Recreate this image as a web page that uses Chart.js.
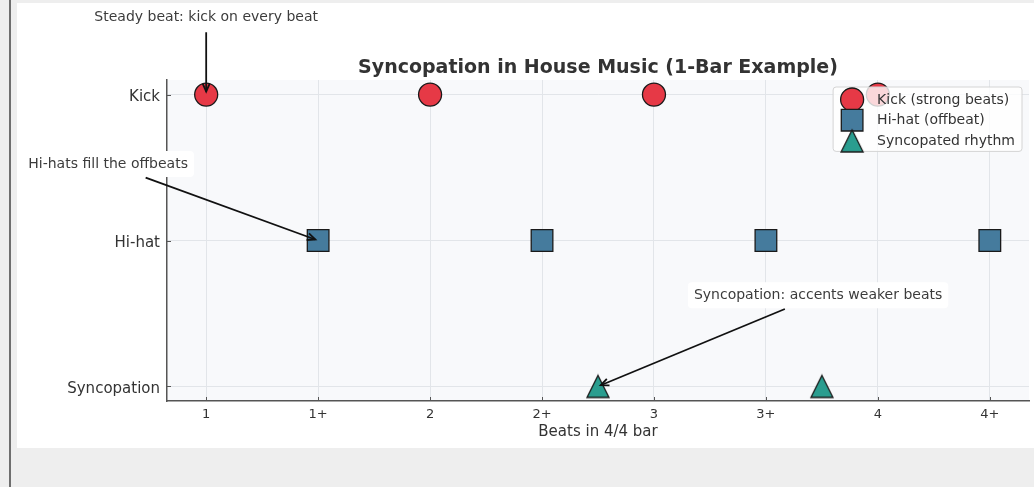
<!DOCTYPE html>
<html>
<head>
<meta charset="utf-8">
<title>Syncopation in House Music</title>
<script src="https://cdn.jsdelivr.net/npm/chart.js@4.4.0/dist/chart.umd.min.js"></script>
<style>
  html, body { margin: 0; padding: 0; }
  body { width: 1034px; height: 487px; background: #eeeeee; position: relative; overflow: hidden; }
  .borde { position: absolute; left: 9px; top: 0; width: 2px; height: 487px; background: #6e6e6e; }
  .panel { position: absolute; left: 17px; top: 3px; width: 1017px; height: 445px; background: #ffffff; }
  #grafico { position: absolute; left: 0; top: 0; }
</style>
</head>
<body>
<div class="borde"></div>
<div class="panel"></div>
<canvas id="grafico" width="1034" height="487"></canvas>
<script>
// eje x: tiempos del compas
const posicionesX = [1, 1.5, 2, 2.5, 3, 3.5, 4, 4.5];
const etiquetasX = ['1', '1+', '2', '2+', '3', '3+', '4', '4+'];
// eje y: instrumentos
const nivelesY = [0, 1, 2];
const etiquetasY = ['Syncopation', 'Hi-hat', 'Kick'];

// golpes de cada serie
const kickX = [1, 2, 3, 4];
const kickY = [2, 2, 2, 2];
const hihatX = [1.5, 2.5, 3.5, 4.5];
const hihatY = [1, 1, 1, 1];
const syncX = [2.75, 3.75];
const syncY = [0, 0];

const nombresSeries = ['Kick (strong beats)', 'Hi-hat (offbeat)', 'Syncopated rhythm'];

// anotaciones: texto, posicion del texto y punto al que apunta (en datos)
const notasTexto = ['Steady beat: kick on every beat', 'Hi-hats fill the offbeats', 'Syncopation: accents weaker beats'];
const notasX = [1.0, 0.562, 3.733];
const notasY = [2.53, 1.525, 0.625];
const destinoX = [1, 1.5, 2.75];
const destinoY = [2, 1, 0];

const FUENTE = '"DejaVu Sans", "Liberation Sans", sans-serif';
const puntos = (xs, ys) => xs.map((x, i) => ({ x: x, y: ys[i] }));

// triangulo centrado en su caja, como el marcador '^'
const triangulo = (() => {
    const c = document.createElement('canvas');
    c.width = 26; c.height = 26;
    const t = c.getContext('2d');
    t.beginPath();
    t.moveTo(13, 2);
    t.lineTo(24, 24);
    t.lineTo(2, 24);
    t.closePath();
    t.fillStyle = '#2a9d8f';
    t.fill();
    t.lineWidth = 1.3;
    t.strokeStyle = '#1a1a1a';
    t.stroke();
    return c;
})();

const flecha = (ctx, x0, y0, x1, y1) => {
    const ang = Math.atan2(y1 - y0, x1 - x0);
    const L = 8, W = 3.5;
    ctx.beginPath();
    ctx.moveTo(x0, y0);
    ctx.lineTo(x1, y1);
    ctx.stroke();
    ctx.beginPath();
    ctx.moveTo(x1 - L * Math.cos(ang) + W * Math.sin(ang), y1 - L * Math.sin(ang) - W * Math.cos(ang));
    ctx.lineTo(x1, y1);
    ctx.lineTo(x1 - L * Math.cos(ang) - W * Math.sin(ang), y1 - L * Math.sin(ang) + W * Math.cos(ang));
    ctx.stroke();
}

const decoracion = {
    id: 'decoracion',
    beforeDraw(chart) {
        const { ctx, chartArea: a } = chart;
        ctx.save();
        ctx.fillStyle = '#f8f9fb';
        ctx.fillRect(a.left, a.top, a.right - a.left, a.bottom - a.top);
        ctx.restore();
    },
    afterDraw(chart) {
        const { ctx, chartArea: a, scales } = chart;
        const sx = scales.x, sy = scales.y;
        ctx.save();

        // marcas de los ejes hacia adentro
        ctx.strokeStyle = '#555';
        ctx.lineWidth = 1;
        posicionesX.forEach(v => {
            const px = Math.round(sx.getPixelForValue(v)) + 0.5;
            ctx.beginPath(); ctx.moveTo(px, a.bottom); ctx.lineTo(px, a.bottom - 4); ctx.stroke();
        });
        nivelesY.forEach(v => {
            const py = Math.round(sy.getPixelForValue(v)) + 0.5;
            ctx.beginPath(); ctx.moveTo(a.left, py); ctx.lineTo(a.left + 4, py); ctx.stroke();
        });

        // anotaciones con flecha
        ctx.font = '14px ' + FUENTE;
        notasTexto.forEach((txt, i) => {
            const cx = sx.getPixelForValue(notasX[i]);
            const cy = sy.getPixelForValue(notasY[i]);
            const tx = sx.getPixelForValue(destinoX[i]);
            const ty = sy.getPixelForValue(destinoY[i]);
            const hw = ctx.measureText(txt).width / 2 + 6;
            const hh = 13;
            ctx.fillStyle = '#ffffff';
            ctx.beginPath();
            ctx.roundRect(cx - hw, cy - hh, hw * 2, hh * 2, 4);
            ctx.fill();
            ctx.fillStyle = '#3c3c3c';
            ctx.textAlign = 'center';
            ctx.textBaseline = 'middle';
            ctx.fillText(txt, cx, cy);
            const dx = tx - cx, dy = ty - cy;
            const largo = Math.hypot(dx, dy);
            const t = Math.min(dx ? hw / Math.abs(dx) : Infinity, dy ? hh / Math.abs(dy) : Infinity);
            const x0 = cx + dx * t + dx / largo * 2, y0 = cy + dy * t + dy / largo * 2;
            const x1 = tx - dx / largo * 3, y1 = ty - dy / largo * 3;
            ctx.strokeStyle = '#111';
            ctx.lineWidth = 1.8;
            flecha(ctx, x0, y0, x1, y1);
        });

        // leyenda dentro del area
        ctx.font = '14px ' + FUENTE;
        const anchoTexto = Math.max(...nombresSeries.map(n => ctx.measureText(n).width));
        const anchoCaja = 44 + anchoTexto + 7;
        const altoFila = 20.7;
        const caja = { x: a.right - 7 - anchoCaja, y: a.top + 7 };
        ctx.fillStyle = 'rgba(255,255,255,0.8)';
        ctx.strokeStyle = '#d4d4d4';
        ctx.lineWidth = 1;
        ctx.beginPath();
        ctx.roundRect(caja.x, caja.y, anchoCaja, 12.5 + altoFila * 2 + 10.5, 3);
        ctx.fill();
        ctx.stroke();
        chart.data.datasets.forEach((ds, i) => {
            const my = caja.y + 12.5 + altoFila * i;
            ctx.fillStyle = ds.backgroundColor;
            ctx.strokeStyle = ds.borderColor;
            ctx.lineWidth = ds.borderWidth;
            Chart.helpers.drawPoint(ctx, { pointStyle: ds.pointStyle, radius: ds.pointRadius, rotation: 0, borderWidth: ds.borderWidth }, caja.x + 19, my);
            ctx.fillStyle = '#333';
            ctx.textAlign = 'left';
            ctx.textBaseline = 'middle';
            ctx.fillText(ds.label, caja.x + 44, my + 0.5);
        });
        ctx.restore();
    }
};

const serie = (i, xs, ys, color, estilo, radio) => ({
    label: nombresSeries[i],
    data: puntos(xs, ys),
    backgroundColor: color,
    borderColor: '#1a1a1a',
    borderWidth: 1.3,
    pointStyle: estilo,
    pointRadius: radio,
    pointHoverRadius: radio
});

const ctx = document.getElementById('grafico').getContext('2d');
const myChart = new Chart(ctx, {
    type: 'scatter',
    data: {
        datasets: [
            serie(0, kickX, kickY, '#e63946', 'circle', 11.5),
            serie(1, hihatX, hihatY, '#457b9d', 'rect', 15.3),
            serie(2, syncX, syncY, '#2a9d8f', triangulo, 13)
        ]
    },
    options: {
        responsive: false,
        animation: false,
        layout: { autoPadding: false, padding: { top: 0, left: 0, right: 5, bottom: 39 } },
        plugins: {
            legend: { display: false },
            tooltip: { enabled: false },
            title: {
                display: true,
                fullSize: false,
                text: 'Syncopation in House Music (1-Bar Example)',
                color: '#333',
                font: { family: FUENTE, size: 19, weight: 'bold' },
                padding: { top: 56.6, bottom: 0.6 }
            }
        },
        scales: {
            x: {
                type: 'linear',
                min: 0.825,
                max: 4.675,
                afterBuildTicks: s => { s.ticks = posicionesX.map(v => ({ value: v })); },
                afterFit: s => { s.height = 47; },
                ticks: {
                    padding: 6,
                    color: '#333',
                    font: { family: FUENTE, size: 13 },
                    callback: v => etiquetasX[posicionesX.indexOf(v)]
                },
                grid: { color: '#e2e5e9', lineWidth: 1, drawTicks: false },
                border: { display: true, color: '#555', width: 1.5 },
                title: {
                    display: true,
                    text: 'Beats in 4/4 bar',
                    color: '#333',
                    font: { family: FUENTE, size: 15 },
                    padding: { top: 0, bottom: 7 }
                }
            },
            y: {
                type: 'linear',
                min: -0.1,
                max: 2.1,
                afterBuildTicks: s => { s.ticks = nivelesY.map(v => ({ value: v })); },
                afterFit: s => { s.width = 167; },
                ticks: {
                    padding: 7,
                    labelOffset: 3,
                    color: '#333',
                    font: { family: FUENTE, size: 15 },
                    callback: v => etiquetasY[nivelesY.indexOf(v)]
                },
                grid: { color: '#e2e5e9', lineWidth: 1, drawTicks: false },
                border: { display: true, color: '#555', width: 1.5 }
            }
        }
    },
    plugins: [decoracion]
});
</script>
</body>
</html>
